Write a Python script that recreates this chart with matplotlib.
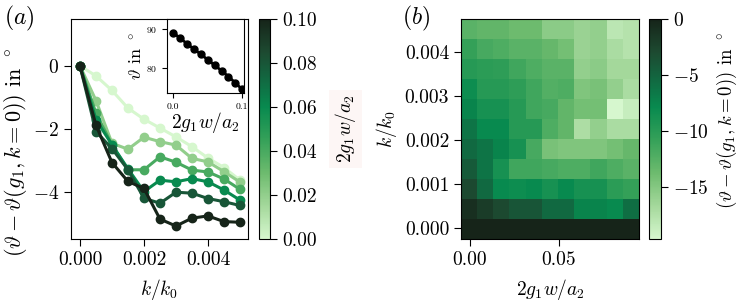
import numpy as np
import matplotlib
matplotlib.use("Agg")
import matplotlib.pyplot as plt
from matplotlib.colors import LinearSegmentedColormap, Normalize
from matplotlib.cm import ScalarMappable

plt.rcParams["font.family"] = "serif"
plt.rcParams["font.serif"] = ["cmr10"]
plt.rcParams["mathtext.fontset"] = "cm"
plt.rcParams["axes.formatter.use_mathtext"] = True
plt.rcParams["font.size"] = 14
plt.rcParams["xtick.major.size"] = 5
plt.rcParams["ytick.major.size"] = 5

# k/k0 grid and coupling values
k = [0.0, 0.0005, 0.001, 0.0015, 0.002, 0.0025, 0.003, 0.0035, 0.004, 0.0045, 0.005]
g_lines = [0.0, 0.02, 0.04, 0.06, 0.08, 0.10]
g_grid = [0.0, 0.01, 0.02, 0.03, 0.04, 0.05, 0.06, 0.07, 0.08, 0.09, 0.10]

# panel (a): angle shift vs k for each coupling
dtheta = [
    [0, -0.32, -0.78, -1.34, -1.69, -1.97, -2.25, -2.56, -2.92, -3.22, -3.62],
    [0, -1.10, -2.45, -2.64, -2.26, -2.40, -2.51, -2.93, -3.04, -3.35, -3.68],
    [0, -1.50, -2.50, -3.29, -3.29, -2.88, -3.05, -3.30, -3.36, -3.58, -3.91],
    [0, -1.70, -2.50, -3.26, -3.98, -3.62, -3.67, -3.57, -3.67, -3.93, -4.25],
    [0, -2.08, -2.62, -3.29, -4.19, -4.35, -4.00, -4.03, -4.20, -4.30, -4.42],
    [0, -1.88, -3.06, -3.66, -3.88, -4.85, -5.07, -4.82, -4.75, -4.93, -4.95],
]

# inset: absolute angle at k=0
theta0 = [89.0, 87.6, 86.2, 84.8, 83.5, 82.1, 80.7, 79.3, 77.8, 76.2, 74.5]

# panel (b): rows = k (from 0 up), cols = g_grid
heat = [
    [0, 0, 0, 0, 0, 0, 0, 0, 0, 0, 0],
    [-1.0, -2.0, -3.0, -3.9, -3.9, -5.5, -5.5, -7.5, -7.5, -7.9, -5.9],
    [-3.0, -5.5, -7.9, -8.3, -7.9, -8.9, -7.9, -8.9, -8.9, -10.2, -10.8],
    [-4.3, -6.3, -8.9, -11.4, -11.4, -11.8, -12.2, -12.2, -11.4, -12.2, -12.8],
    [-5.5, -6.3, -7.5, -8.9, -11.8, -14.4, -14.8, -14.8, -14.8, -14.2, -13.4],
    [-6.3, -7.9, -7.9, -9.9, -9.9, -12.2, -13.2, -17.3, -15.8, -17.1, -17.1],
    [-7.5, -8.9, -8.9, -9.9, -11.4, -11.8, -13.2, -14.2, -14.2, -19.7, -18.7],
    [-8.3, -9.9, -9.9, -10.4, -11.4, -12.4, -12.2, -14.8, -14.4, -15.8, -17.1],
    [-9.9, -10.2, -10.4, -11.4, -12.2, -12.8, -12.8, -15.8, -15.4, -16.7, -16.7],
    [-10.8, -11.8, -12.2, -12.8, -12.8, -13.4, -14.2, -16.2, -15.8, -17.1, -17.7],
    [-12.8, -13.2, -13.2, -13.8, -13.8, -15.4, -15.4, -16.2, -15.8, -18.1, -17.7],
]

cmap = LinearSegmentedColormap.from_list("algae_like", [
    (0.00, "#d6f7ce"), (0.15, "#a4d89b"), (0.30, "#6dbb6e"), (0.45, "#35a159"),
    (0.60, "#088a4f"), (0.72, "#116a42"), (0.85, "#1d4a31"), (1.00, "#162419")])

fig = plt.figure(figsize=(7.47, 3.07), dpi=100)
W, H = 747, 307


def box(x0, y0, x1, y1):
    return [x0 / W, 1 - y1 / H, (x1 - x0) / W, (y1 - y0) / H]


# ---- panel (b) first, so the (a) colorbar label can sit over its ylabel
axb = fig.add_axes(box(461, 19, 639, 239))
im = axb.imshow(np.array(heat), origin="lower", cmap=cmap, aspect="auto",
                extent=(-0.005, 0.095, -0.00025, 0.00475))
axb.set_xticks([0, 0.05])
axb.set_xticklabels(["0.00", "0.05"])
axb.set_yticks([0, 0.001, 0.002, 0.003, 0.004])
axb.set_yticklabels(["0.000", "0.001", "0.002", "0.003", "0.004"])
axb.set_xlabel(r"$2g_1w/a_2$", labelpad=6)
axb.set_ylabel(r"$k/k_0$")
fig.text(402 / W, 1 - 24 / H, r"$(b)$", fontsize=17)

cax_b = fig.add_axes(box(649, 19, 661, 239))
cb_b = fig.colorbar(im, cax=cax_b)
cb_b.set_ticks([0, -5, -10, -15])
cb_b.set_label(r"$(\vartheta-\vartheta(g_1,k=0))$ in $^\circ$", fontsize=13.5)
cb_b.ax.yaxis.set_label_coords(5.5, 0.54)

# ---- panel (a)
ax = fig.add_axes(box(71, 19, 248, 239))
norm = Normalize(0, 0.1)
for g, ys in zip(g_lines, dtheta):
    ax.plot(k, ys, "o-", color=cmap(norm(g)), lw=2.2, ms=6)
ax.set_xlim(-0.00028, 0.00525)
ax.set_ylim(-5.48, 1.48)
ax.set_xticks([0, 0.002, 0.004])
ax.set_xticklabels(["0.000", "0.002", "0.004"])
ax.set_yticks([0, -2, -4])
ax.set_xlabel(r"$k/k_0$", labelpad=6)
ax.set_ylabel(r"$(\vartheta-\vartheta(g_1,k=0))$ in $^\circ$", fontsize=16)
ax.yaxis.set_label_coords(-0.235, 0.395)
fig.text(4 / W, 1 - 24 / H, r"$(a)$", fontsize=17)

ins = fig.add_axes(box(167, 19, 244, 93))
ins.plot(g_grid, theta0, "o-", color="black", lw=2, ms=5)
ins.set_xlim(-0.009, 0.1026)
ins.set_ylim(73.6, 92.5)
ins.set_xticks([0, 0.1])
ins.set_xticklabels(["0.0", "0.1"])
ins.set_yticks([80, 90])
ins.tick_params(labelsize=7, length=3.5)
ins.set_xlabel(r"$2g_1w/a_2$", labelpad=-1)
ins.set_ylabel(r"$\vartheta$ in $^\circ$", labelpad=1, fontsize=13)

cax_a = fig.add_axes(box(259, 19, 270, 239))
cb_a = fig.colorbar(ScalarMappable(norm=norm, cmap=cmap), cax=cax_a)
cb_a.set_ticks([0, 0.02, 0.04, 0.06, 0.08, 0.10])
cb_a.ax.set_yticklabels(["0.00", "0.02", "0.04", "0.06", "0.08", "0.10"])
cb_a.set_label(r"$2g_1w/a_2$", labelpad=12,
               bbox=dict(facecolor="#fdf6f5", edgecolor="none", pad=3))

fig.savefig("out.png", dpi=100)
